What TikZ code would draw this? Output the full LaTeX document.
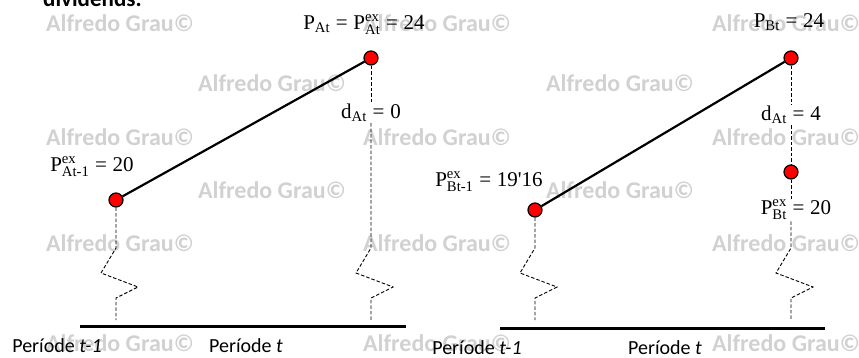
\documentclass[tikz,border=0pt]{standalone}
\usepackage{amsmath}
\usepackage{fontspec}
\setmainfont{Liberation Serif}
\newfontfamily\calibri{Carlito}
\newcommand\eqs{\mathrel{\text{=}}}
\begin{document}
\begin{tikzpicture}[x=1pt, y=-1pt,
  dot/.style={circle, draw, fill=red, line width=1.2pt, minimum size=14pt, inner sep=0pt},
  val/.style={font=\fontsize{21}{25}\selectfont, inner sep=1pt},
  per/.style={font=\calibri\fontsize{20}{24}\selectfont, inner sep=0pt},
  wm/.style={font=\calibri\bfseries\fontsize{24}{28}\selectfont, text=black!18},
  vl/.style={dash pattern=on 3.5pt off 2pt, line width=.9pt}]
\useasboundingbox (0,0) rectangle (859,358);
\node[font=\calibri\bfseries\fontsize{23}{28}\selectfont, anchor=base west, inner sep=0pt] (tit) at (43,7) {dividends.};
\foreach \x in {120,437,786} \foreach \y in {23,137,243,343} \node[wm] at (\x,\y) {Alfredo Grau\textcopyright};
\foreach \x in {272,620} \foreach \y in {83,190} \node[wm] at (\x,\y) {Alfredo Grau\textcopyright};

\draw[line width=3pt] (80,326) -- (406,326);
\node[dot] (a0) at (116,200) {};
\node[dot] (a1) at (371,58) {};
\draw[line width=2.2pt] (a0) -- (a1);
\node[val] (pa0) at (92,167) {$\mathrm{P}^{\text{ex}}_{\text{At-1}}\eqs\text{20}$};
\node[val] (pa1) at (364,25) {$\mathrm{P}_{\text{At}}\eqs\mathrm{P}^{\text{ex}}_{\text{At}}\eqs\text{24}$};
\node[val] (da) at (371,113) {$\mathrm{d}_{\text{At}}\eqs\text{0}$};
\draw[vl] (a1) -- (da);
\draw[vl] (da) -- (371,248) -- ++(-15,25) -- ++(37,14) -- ++(-22,11) -- ++(0,22);
\draw[vl] (a0) -- (116,248) -- ++(-15,25) -- ++(37,14) -- ++(-22,11) -- ++(0,22);
\node[per] (pera0) at (57,346) {Període \textit{t-1}};
\node[per] (pera1) at (246,346) {Període \textit{t}};

\draw[line width=3pt] (500,328) -- (825,328);
\node[dot] (b0) at (535,210) {};
\node[dot] (b1) at (791,58) {};
\node[dot] (b2) at (791,172) {};
\draw[line width=2.2pt] (b0) -- (b1);
\node[val] (pb0) at (489,182) {$\mathrm{P}^{\text{ex}}_{\text{Bt-1}}\eqs\text{19\textquotesingle16}$};
\node[val] (pb1) at (789,22) {$\mathrm{P}_{\text{Bt}}\eqs\text{24}$};
\node[val] (db) at (791,115) {$\mathrm{d}_{\text{At}}\eqs\text{4}$};
\node[val] (pb2) at (796,210) {$\mathrm{P}^{\text{ex}}_{\text{Bt}}\eqs\text{20}$};
\draw[vl] (b1) -- (db);
\draw[vl] (db) -- (b2);
\draw[vl] (b2) -- (b2 |- pb2.north);
\draw[vl] (b2 |- pb2.south) -- (791,248) -- ++(-15,25) -- ++(37,14) -- ++(-22,11) -- ++(0,22);
\draw[vl] (b0) -- (535,248) -- ++(-15,25) -- ++(37,14) -- ++(-22,11) -- ++(0,22);
\node[per] (perb0) at (477,348) {Període \textit{t-1}};
\node[per] (perb1) at (665,348) {Període \textit{t}};
\end{tikzpicture}
\end{document}
